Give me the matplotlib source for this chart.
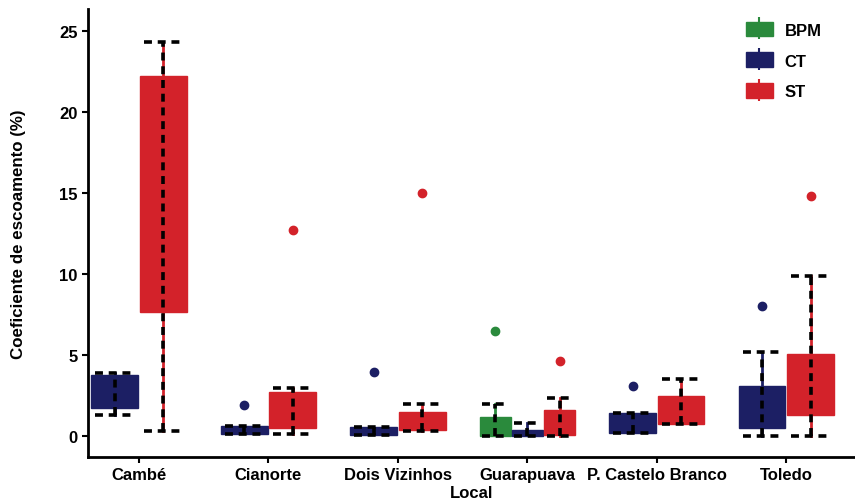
import matplotlib
matplotlib.use("Agg")
import matplotlib.pyplot as plt
from matplotlib.patches import Patch
from matplotlib.lines import Line2D

plt.rcParams['font.family'] = ['Liberation Sans', 'DejaVu Sans']
plt.rcParams['font.weight'] = 'bold'

locais = ['Cambé', 'Cianorte', 'Dois Vizinhos', 'Guarapuava', 'P. Castelo Branco', 'Toledo']
tratamentos = ['BPM', 'CT', 'ST']
cores = {'BPM': '#2a8a3c', 'CT': '#1c1f64', 'ST': '#d3222a'}

# estatisticas (None = sem dados no local)
bpm_whislo = [None, None, None, 0.0, None, None]
bpm_q1 = [None, None, None, 0.0, None, None]
bpm_med = [None, None, None, 0.5, None, None]
bpm_q3 = [None, None, None, 1.15, None, None]
bpm_whishi = [None, None, None, 2.0, None, None]
bpm_fliers = [[], [], [], [6.5], [], []]

ct_whislo = [1.3, 0.1, 0.05, 0.0, 0.2, 0.0]
ct_q1 = [1.75, 0.1, 0.05, 0.0, 0.2, 0.5]
ct_med = [2.9, 0.3, 0.3, 0.15, 0.8, 1.5]
ct_q3 = [3.75, 0.6, 0.55, 0.35, 1.42, 3.1]
ct_whishi = [3.9, 0.6, 0.55, 0.8, 1.42, 5.2]
ct_fliers = [[], [1.9], [3.95], [], [3.1], [8.05]]

st_whislo = [0.3, 0.1, 0.3, 0.0, 0.75, 0.0]
st_q1 = [7.65, 0.5, 0.35, 0.05, 0.75, 1.3]
st_med = [15.0, 1.5, 0.9, 0.8, 1.6, 3.0]
st_q3 = [22.2, 2.7, 1.5, 1.6, 2.47, 5.05]
st_whishi = [24.3, 2.95, 2.0, 2.35, 3.5, 9.9]
st_fliers = [[], [12.7], [15.0], [4.65], [], [14.8]]

dados = {
    'BPM': (bpm_whislo, bpm_q1, bpm_med, bpm_q3, bpm_whishi, bpm_fliers),
    'CT': (ct_whislo, ct_q1, ct_med, ct_q3, ct_whishi, ct_fliers),
    'ST': (st_whislo, st_q1, st_med, st_q3, st_whishi, st_fliers),
}

fig = plt.figure(figsize=(8.55, 5.02), dpi=100)
ax = fig.add_axes([88 / 855, 44 / 502, 767 / 855, 448 / 502])

for i, local in enumerate(locais):
    presentes = [t for t in tratamentos if dados[t][0][i] is not None]
    n = len(presentes)
    largura = 0.75 / n
    for j, t in enumerate(presentes):
        wlo, q1, med, q3, whi, fl = (s[i] for s in dados[t])
        pos = i + 1 - 0.375 + largura * (j + 0.5)
        c = cores[t]
        stats = [dict(whislo=wlo, q1=q1, med=med, q3=q3, whishi=whi, fliers=fl)]
        ax.bxp(stats, positions=[pos], widths=largura * 0.96, patch_artist=True,
               showcaps=False, manage_ticks=False,
               boxprops=dict(facecolor=c, edgecolor=c, linewidth=1),
               whiskerprops=dict(color=c, linewidth=2),
               medianprops=dict(color=c, linewidth=1),
               flierprops=dict(marker='o', markerfacecolor=c, markeredgecolor=c,
                               markersize=6))
        # barras de erro tracejadas por cima
        ax.vlines(pos, wlo, whi, colors='black', linestyles=(0, (2.2, 1.6)),
                  linewidth=2.6, zorder=3)
        meia = largura * 0.4
        ax.hlines([wlo, whi], pos - meia, pos + meia, colors='black',
                  linestyles=(0, (2.2, 1.6)), linewidth=2.6, zorder=3)

ax.set_xlim(0.606, 6.53)
ax.set_ylim(-1.3, 26.36)
ax.set_xticks(range(1, len(locais) + 1))
ax.set_xticklabels(locais)
ax.set_yticks([0, 5, 10, 15, 20, 25])
ax.tick_params(axis='both', labelsize=12, width=1.5, length=4, colors='black')
for lab in ax.get_xticklabels() + ax.get_yticklabels():
    lab.set_fontweight('bold')

ax.spines['top'].set_visible(False)
ax.spines['right'].set_visible(False)
ax.spines['left'].set_linewidth(2)
ax.spines['bottom'].set_linewidth(2)

ax.set_ylabel('Coeficiente de escoamento (%)', fontsize=12.2, fontweight='bold')
ax.yaxis.set_label_coords(-0.081, 0.5)
ax.set_xlabel('Local', fontsize=12, fontweight='bold')
ax.xaxis.set_label_coords(0.5, -0.062)

handles = [(Patch(facecolor=cores[t], edgecolor=cores[t]),
            Line2D([], [], color=cores[t], marker='|', markersize=16, mew=1.5,
                   linestyle='None')) for t in tratamentos]
ax.legend(handles=handles, labels=tratamentos, loc='upper left', frameon=False,
          prop={'weight': 'bold', 'size': 12}, handlelength=1.6, handleheight=1.0,
          labelspacing=0.88, handletextpad=0.7, borderpad=0, borderaxespad=0,
          bbox_to_anchor=(0.858, 0.972))

fig.savefig('out.png', dpi=100)
